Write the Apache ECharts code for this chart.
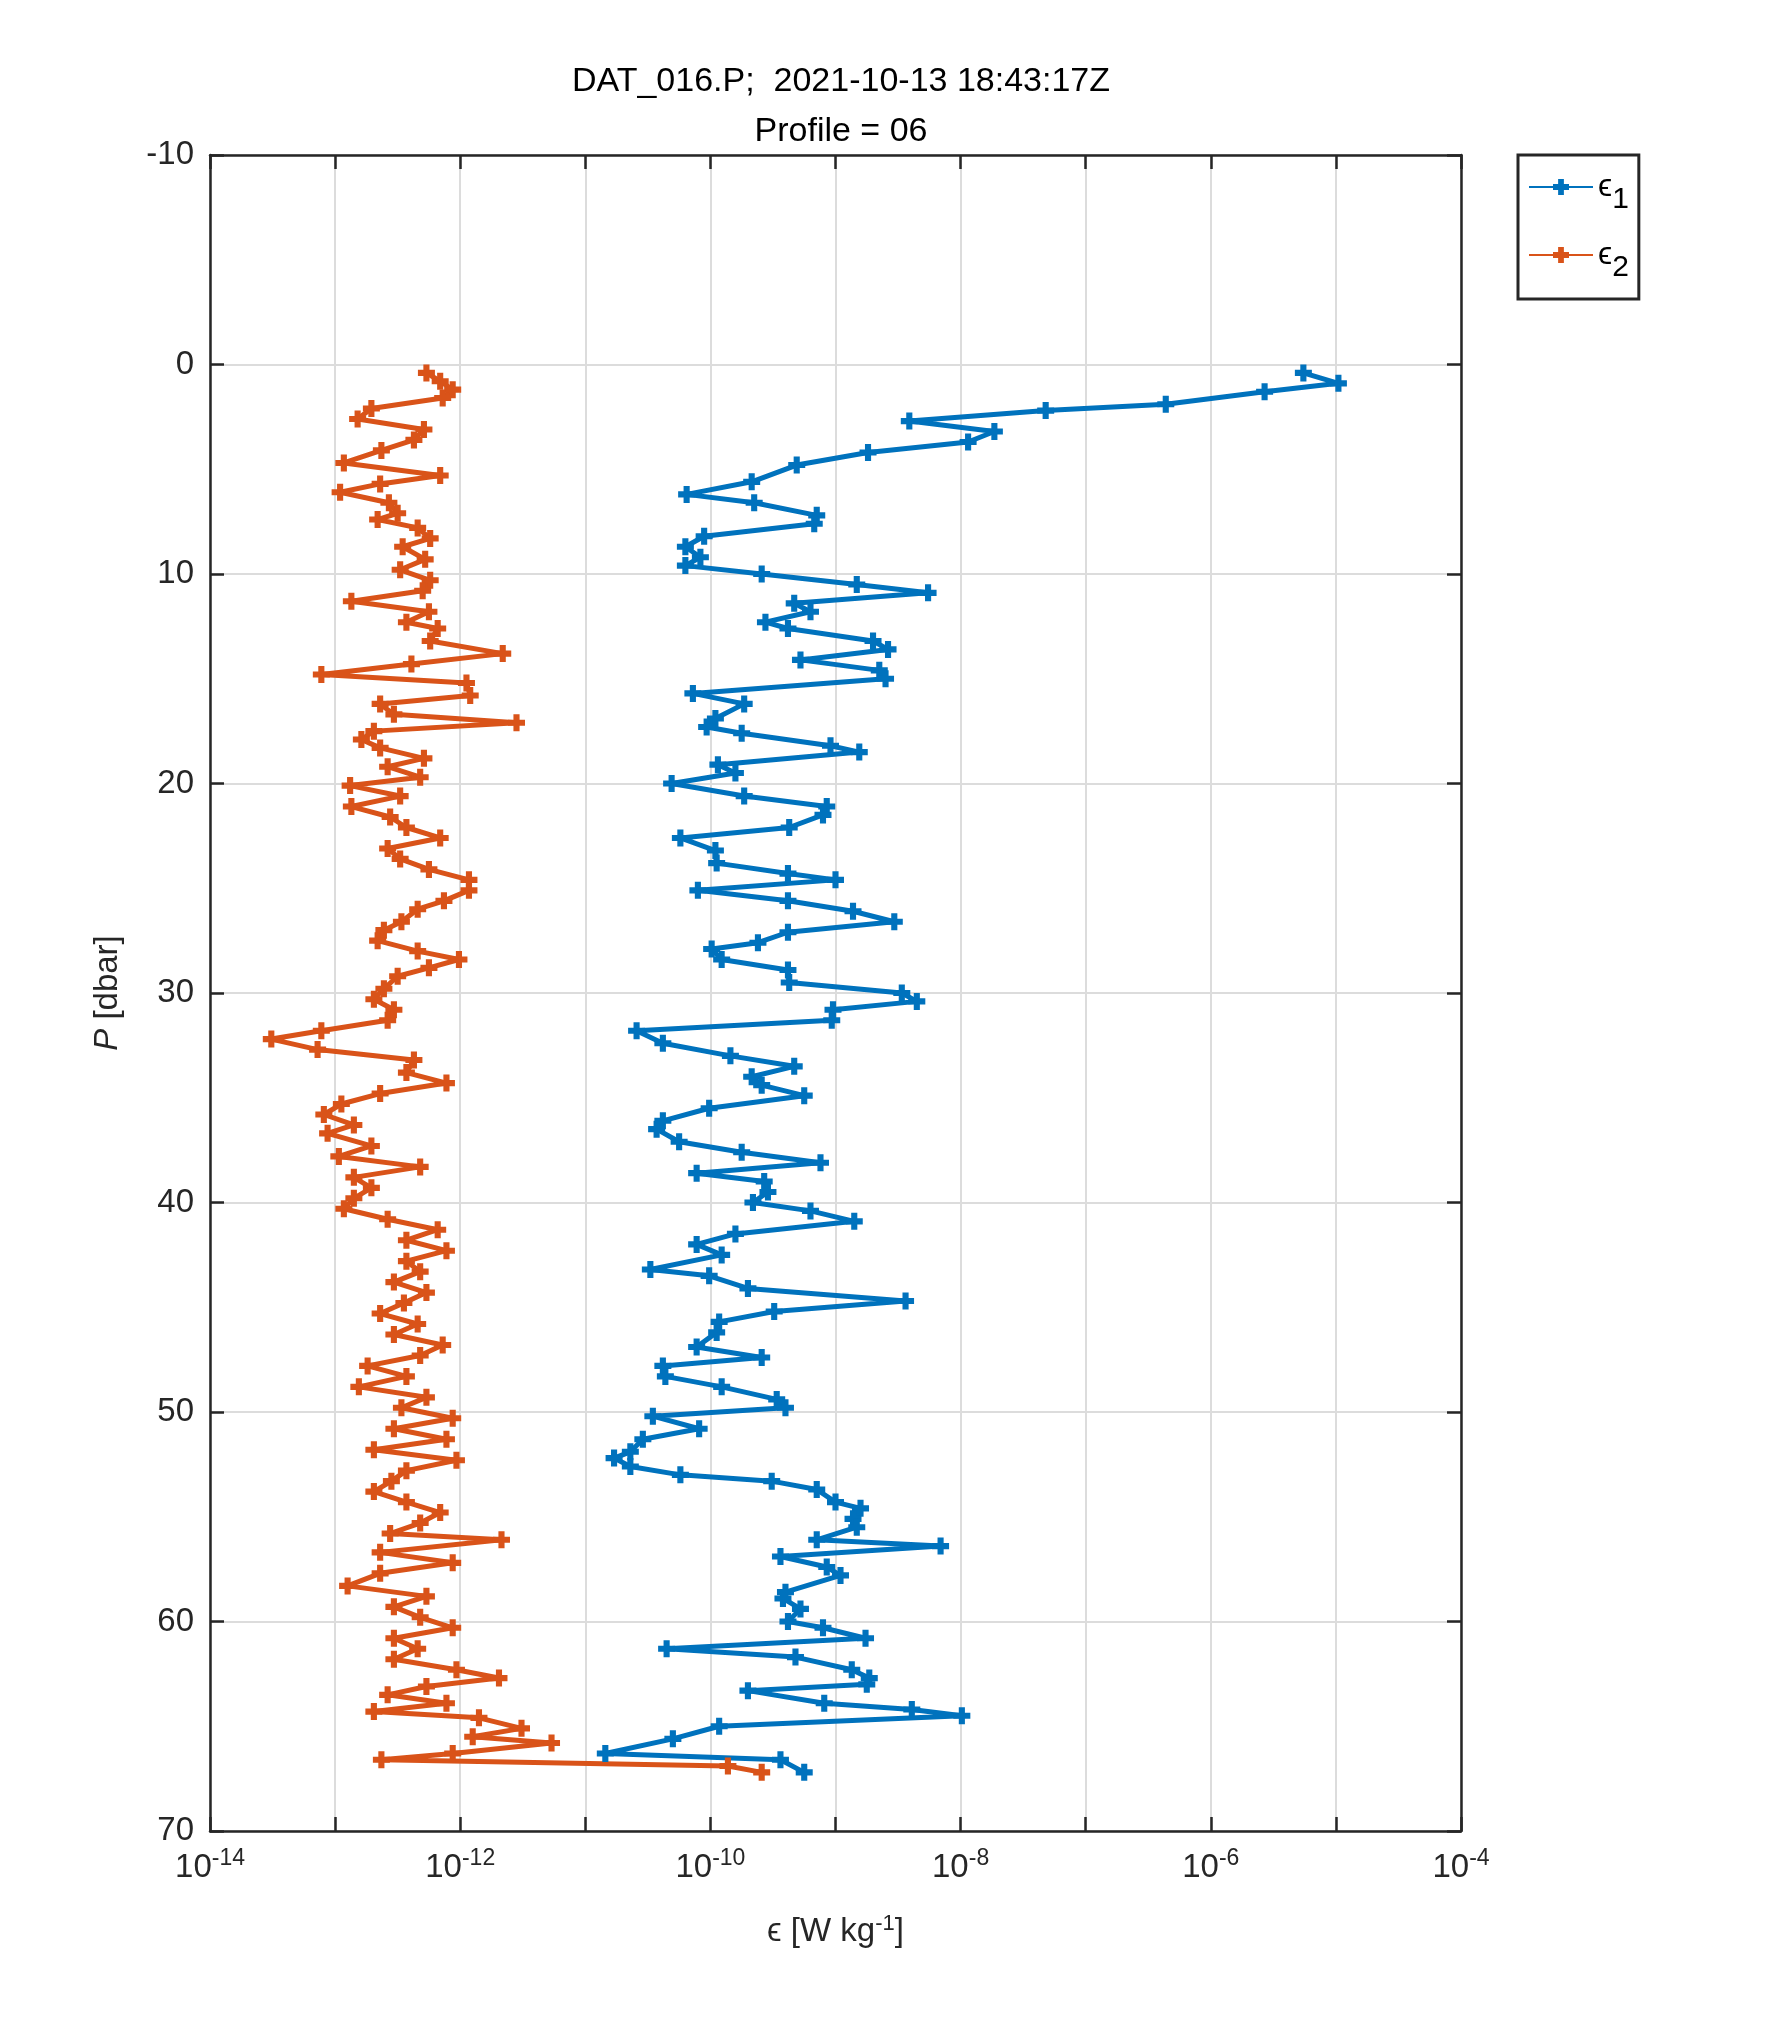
<!DOCTYPE html>
<html>
<head>
<meta charset="utf-8">
<script src="https://cdn.jsdelivr.net/npm/echarts@6/dist/echarts.min.js"></script>
<style>html,body{margin:0;background:#fff}#chart{width:1772px;height:2029px}</style>
</head>
<body>
<div id="chart"></div>
<script>
// [P (dbar), log10(epsilon)]
var eps1Log = [[0.4,-5.26],[0.9,-4.98],[1.3,-5.57],[1.9,-6.36],[2.2,-7.32],[2.7,-8.41],[3.2,-7.73],[3.7,-7.94],[4.2,-8.74],[4.8,-9.31],[5.6,-9.67],[6.2,-10.19],[6.6,-9.65],[7.2,-9.15],[7.6,-9.17],[8.2,-10.05],[8.7,-10.2],[9.2,-10.08],[9.6,-10.2],[10.0,-9.59],[10.5,-8.83],[10.9,-8.26],[11.4,-9.33],[11.8,-9.2],[12.3,-9.56],[12.6,-9.38],[13.2,-8.7],[13.6,-8.58],[14.1,-9.28],[14.6,-8.65],[15.0,-8.6],[15.7,-10.14],[16.2,-9.73],[16.9,-9.96],[17.3,-10.03],[17.6,-9.75],[18.2,-9.04],[18.5,-8.81],[19.1,-9.94],[19.5,-9.8],[20.0,-10.31],[20.6,-9.73],[21.1,-9.07],[21.5,-9.1],[22.1,-9.37],[22.6,-10.24],[23.2,-9.96],[23.8,-9.95],[24.3,-9.38],[24.6,-9.0],[25.1,-10.1],[25.6,-9.38],[26.1,-8.86],[26.6,-8.53],[27.1,-9.38],[27.6,-9.62],[27.9,-9.99],[28.4,-9.91],[28.9,-9.38],[29.5,-9.37],[30.0,-8.47],[30.4,-8.35],[30.8,-9.02],[31.3,-9.03],[31.8,-10.59],[32.4,-10.38],[33.0,-9.84],[33.5,-9.33],[34.0,-9.67],[34.4,-9.59],[34.9,-9.25],[35.5,-10.01],[36.1,-10.38],[36.5,-10.43],[37.1,-10.25],[37.6,-9.75],[38.1,-9.12],[38.6,-10.11],[39.0,-9.57],[39.5,-9.54],[40.0,-9.66],[40.4,-9.2],[40.9,-8.85],[41.5,-9.8],[42.0,-10.11],[42.5,-9.91],[43.2,-10.48],[43.5,-10.01],[44.1,-9.7],[44.7,-8.44],[45.2,-9.49],[45.7,-9.93],[46.2,-9.95],[46.9,-10.11],[47.4,-9.59],[47.8,-10.38],[48.3,-10.36],[48.8,-9.91],[49.4,-9.47],[49.8,-9.4],[50.2,-10.46],[50.8,-10.09],[51.3,-10.54],[51.9,-10.64],[52.2,-10.77],[52.6,-10.64],[53.0,-10.24],[53.3,-9.51],[53.7,-9.15],[54.3,-9.0],[54.6,-8.8],[55.1,-8.86],[55.5,-8.83],[56.1,-9.15],[56.4,-8.16],[56.9,-9.44],[57.4,-9.07],[57.8,-8.96],[58.6,-9.4],[58.9,-9.42],[59.4,-9.28],[60.0,-9.38],[60.3,-9.1],[60.8,-8.76],[61.3,-10.35],[61.7,-9.32],[62.3,-8.87],[62.7,-8.73],[63.0,-8.75],[63.3,-9.7],[63.9,-9.09],[64.2,-8.39],[64.5,-7.99],[65.0,-9.93],[65.6,-10.3],[66.3,-10.84],[66.6,-9.44],[67.2,-9.25]];
var eps2Log = [[0.4,-12.27],[0.8,-12.16],[1.2,-12.06],[1.6,-12.14],[2.1,-12.71],[2.6,-12.82],[3.1,-12.29],[3.6,-12.37],[4.1,-12.63],[4.7,-12.93],[5.3,-12.16],[5.7,-12.64],[6.1,-12.96],[6.6,-12.57],[7.1,-12.5],[7.4,-12.66],[7.8,-12.34],[8.3,-12.24],[8.7,-12.46],[9.3,-12.28],[9.8,-12.48],[10.3,-12.24],[10.8,-12.3],[11.3,-12.87],[11.8,-12.25],[12.3,-12.43],[12.6,-12.18],[13.2,-12.24],[13.8,-11.66],[14.3,-12.39],[14.8,-13.11],[15.2,-11.95],[15.8,-11.92],[16.2,-12.64],[16.7,-12.53],[17.1,-11.55],[17.5,-12.69],[17.9,-12.79],[18.3,-12.64],[18.8,-12.29],[19.2,-12.58],[19.7,-12.32],[20.1,-12.88],[20.6,-12.48],[21.1,-12.87],[21.6,-12.56],[22.1,-12.43],[22.6,-12.16],[23.1,-12.58],[23.6,-12.48],[24.1,-12.25],[24.6,-11.93],[25.1,-11.93],[25.6,-12.13],[26.0,-12.34],[26.6,-12.47],[27.0,-12.61],[27.5,-12.66],[28.0,-12.34],[28.4,-12.01],[28.8,-12.25],[29.2,-12.5],[29.8,-12.61],[30.3,-12.69],[30.8,-12.53],[31.3,-12.58],[31.8,-13.11],[32.2,-13.51],[32.7,-13.14],[33.2,-12.37],[33.8,-12.43],[34.3,-12.11],[34.8,-12.64],[35.3,-12.95],[35.8,-13.09],[36.3,-12.85],[36.7,-13.06],[37.3,-12.71],[37.8,-12.97],[38.3,-12.32],[38.8,-12.85],[39.3,-12.71],[39.8,-12.85],[40.3,-12.93],[40.8,-12.58],[41.3,-12.18],[41.8,-12.43],[42.3,-12.11],[42.8,-12.43],[43.3,-12.32],[43.8,-12.53],[44.3,-12.27],[44.8,-12.45],[45.3,-12.64],[45.8,-12.34],[46.3,-12.53],[46.8,-12.14],[47.3,-12.32],[47.8,-12.74],[48.3,-12.43],[48.8,-12.81],[49.3,-12.27],[49.8,-12.47],[50.3,-12.06],[50.8,-12.53],[51.3,-12.11],[51.8,-12.69],[52.3,-12.03],[52.8,-12.43],[53.3,-12.55],[53.8,-12.69],[54.3,-12.43],[54.8,-12.16],[55.3,-12.32],[55.8,-12.56],[56.1,-11.67],[56.7,-12.64],[57.2,-12.06],[57.7,-12.64],[58.3,-12.9],[58.8,-12.27],[59.3,-12.53],[59.8,-12.32],[60.3,-12.06],[60.8,-12.53],[61.3,-12.34],[61.8,-12.53],[62.3,-12.03],[62.7,-11.69],[63.1,-12.27],[63.5,-12.58],[63.9,-12.11],[64.3,-12.69],[64.6,-11.85],[65.1,-11.51],[65.5,-11.9],[65.8,-11.27],[66.3,-12.06],[66.6,-12.63],[66.9,-9.86],[67.2,-9.59]];
var seriesNames = ['\u03f5{sub|1}', '\u03f5{sub|2}'];
var colors = ['#0072BD', '#D95319'];
var decades = [-14, -13, -12, -11, -10, -9, -8, -7, -6, -5, -4];

function toData(arr) {
    return arr.map(function(d) { return [Math.pow(10, d[1]), d[0]]; });
}

// minor grid lines at 2..9 x 10^k, plus the odd decades (no label in the reference)
var minorLines = [];
for (var i = 0; i < decades.length - 1; i++) {
    for (var m = 2; m <= 9; m++) {
        minorLines.push({ xAxis: m * Math.pow(10, decades[i]) });
    }
}

var plus = 'path://M3.2,0H6.8V3.2H10V6.8H6.8V10H3.2V6.8H0V3.2H3.2Z';
var font = 'Helvetica, Arial, "Liberation Sans", sans-serif';
var tickLabel = function(v) {
    var e = Math.round(Math.log10(v));
    return (e % 2 === 0) ? '10{s|' + e + '}' : '';
};
var boxLine = { lineStyle: { color: '#262626', width: 2.5 } };
var boxTick = { inside: true, length: 14, lineStyle: { color: '#262626', width: 2.5 } };

var myChart = echarts.init(document.getElementById('chart'));
var option = {
    backgroundColor: '#fff',
    textStyle: { fontFamily: font },
    title: {
        text: 'DAT_016.P;  2021-10-13 18:43:17Z\nProfile = 06',
        left: 836, top: 52, textAlign: 'center',
        textStyle: { fontSize: 34, fontWeight: 'normal', color: '#000', lineHeight: 50, fontFamily: font }
    },
    legend: {
        orient: 'vertical', left: 1518, top: 155,
        padding: [16, 10, 16, 10], itemGap: 24,
        itemWidth: 64, itemHeight: 20,
        borderColor: '#262626', borderWidth: 3,
        data: seriesNames,
        textStyle: {
            fontSize: 32, color: '#000', fontFamily: font,
            rich: { sub: { fontSize: 30, verticalAlign: 'bottom', padding: [26, 0, 0, 0] } }
        }
    },
    grid: { left: 210, right: 311, top: 155, bottom: 198 },
    xAxis: [{
        type: 'log', logBase: 10, min: 1e-14, max: 1e-4, interval: 1,
        name: '\u03f5 [W kg{s|-1}]', nameLocation: 'middle', nameGap: 82,
        nameTextStyle: { fontSize: 33, color: '#262626', rich: { s: { fontSize: 22, verticalAlign: 'top', padding: [0, 0, 16, 0] } } },
        axisLine: { onZero: false, lineStyle: boxLine.lineStyle },
        axisTick: boxTick,
        axisLabel: {
            formatter: tickLabel, fontSize: 33, color: '#262626', margin: 16,
            rich: { s: { fontSize: 23, verticalAlign: 'top', padding: [0, 0, 18, 0] } }
        },
        splitLine: { show: true, lineStyle: { color: '#dcdcdc', width: 2 } }
    }, {
        type: 'log', logBase: 10, min: 1e-14, max: 1e-4, interval: 1, position: 'top',
        axisLine: { onZero: false, lineStyle: boxLine.lineStyle },
        axisTick: boxTick,
        axisLabel: { show: false }, splitLine: { show: false }
    }],
    yAxis: [{
        type: 'value', inverse: true, min: -10, max: 70, interval: 10,
        name: '{i|P} [dbar]', nameLocation: 'middle', nameGap: 86, nameRotate: 90,
        nameTextStyle: { fontSize: 33, color: '#262626', rich: { i: { fontSize: 33, fontStyle: 'italic', color: '#262626' } } },
        axisLine: { onZero: false, lineStyle: boxLine.lineStyle },
        axisTick: boxTick,
        axisLabel: { fontSize: 33, color: '#262626', margin: 16 },
        splitLine: { show: true, lineStyle: { color: '#dcdcdc', width: 2 } }
    }, {
        type: 'value', inverse: true, min: -10, max: 70, interval: 10, position: 'right',
        axisLine: { onZero: false, lineStyle: boxLine.lineStyle },
        axisTick: boxTick,
        axisLabel: { show: false }, splitLine: { show: false }
    }],
    series: [{
        name: seriesNames[0], type: 'line', data: toData(eps1Log),
        color: colors[0], symbol: plus, symbolSize: 17,
        lineStyle: { width: 5 }, itemStyle: { color: colors[0] },
        markLine: {
            silent: true, symbol: 'none', label: { show: false }, animation: false,
            lineStyle: { color: '#c4c4c4', type: [3, 4], width: 1.3 },
            emphasis: { disabled: true },
            data: minorLines
        }
    }, {
        name: seriesNames[1], type: 'line', data: toData(eps2Log),
        color: colors[1], symbol: plus, symbolSize: 17,
        lineStyle: { width: 5 }, itemStyle: { color: colors[1] }
    }]
};
myChart.setOption(option);
</script>
</body>
</html>
